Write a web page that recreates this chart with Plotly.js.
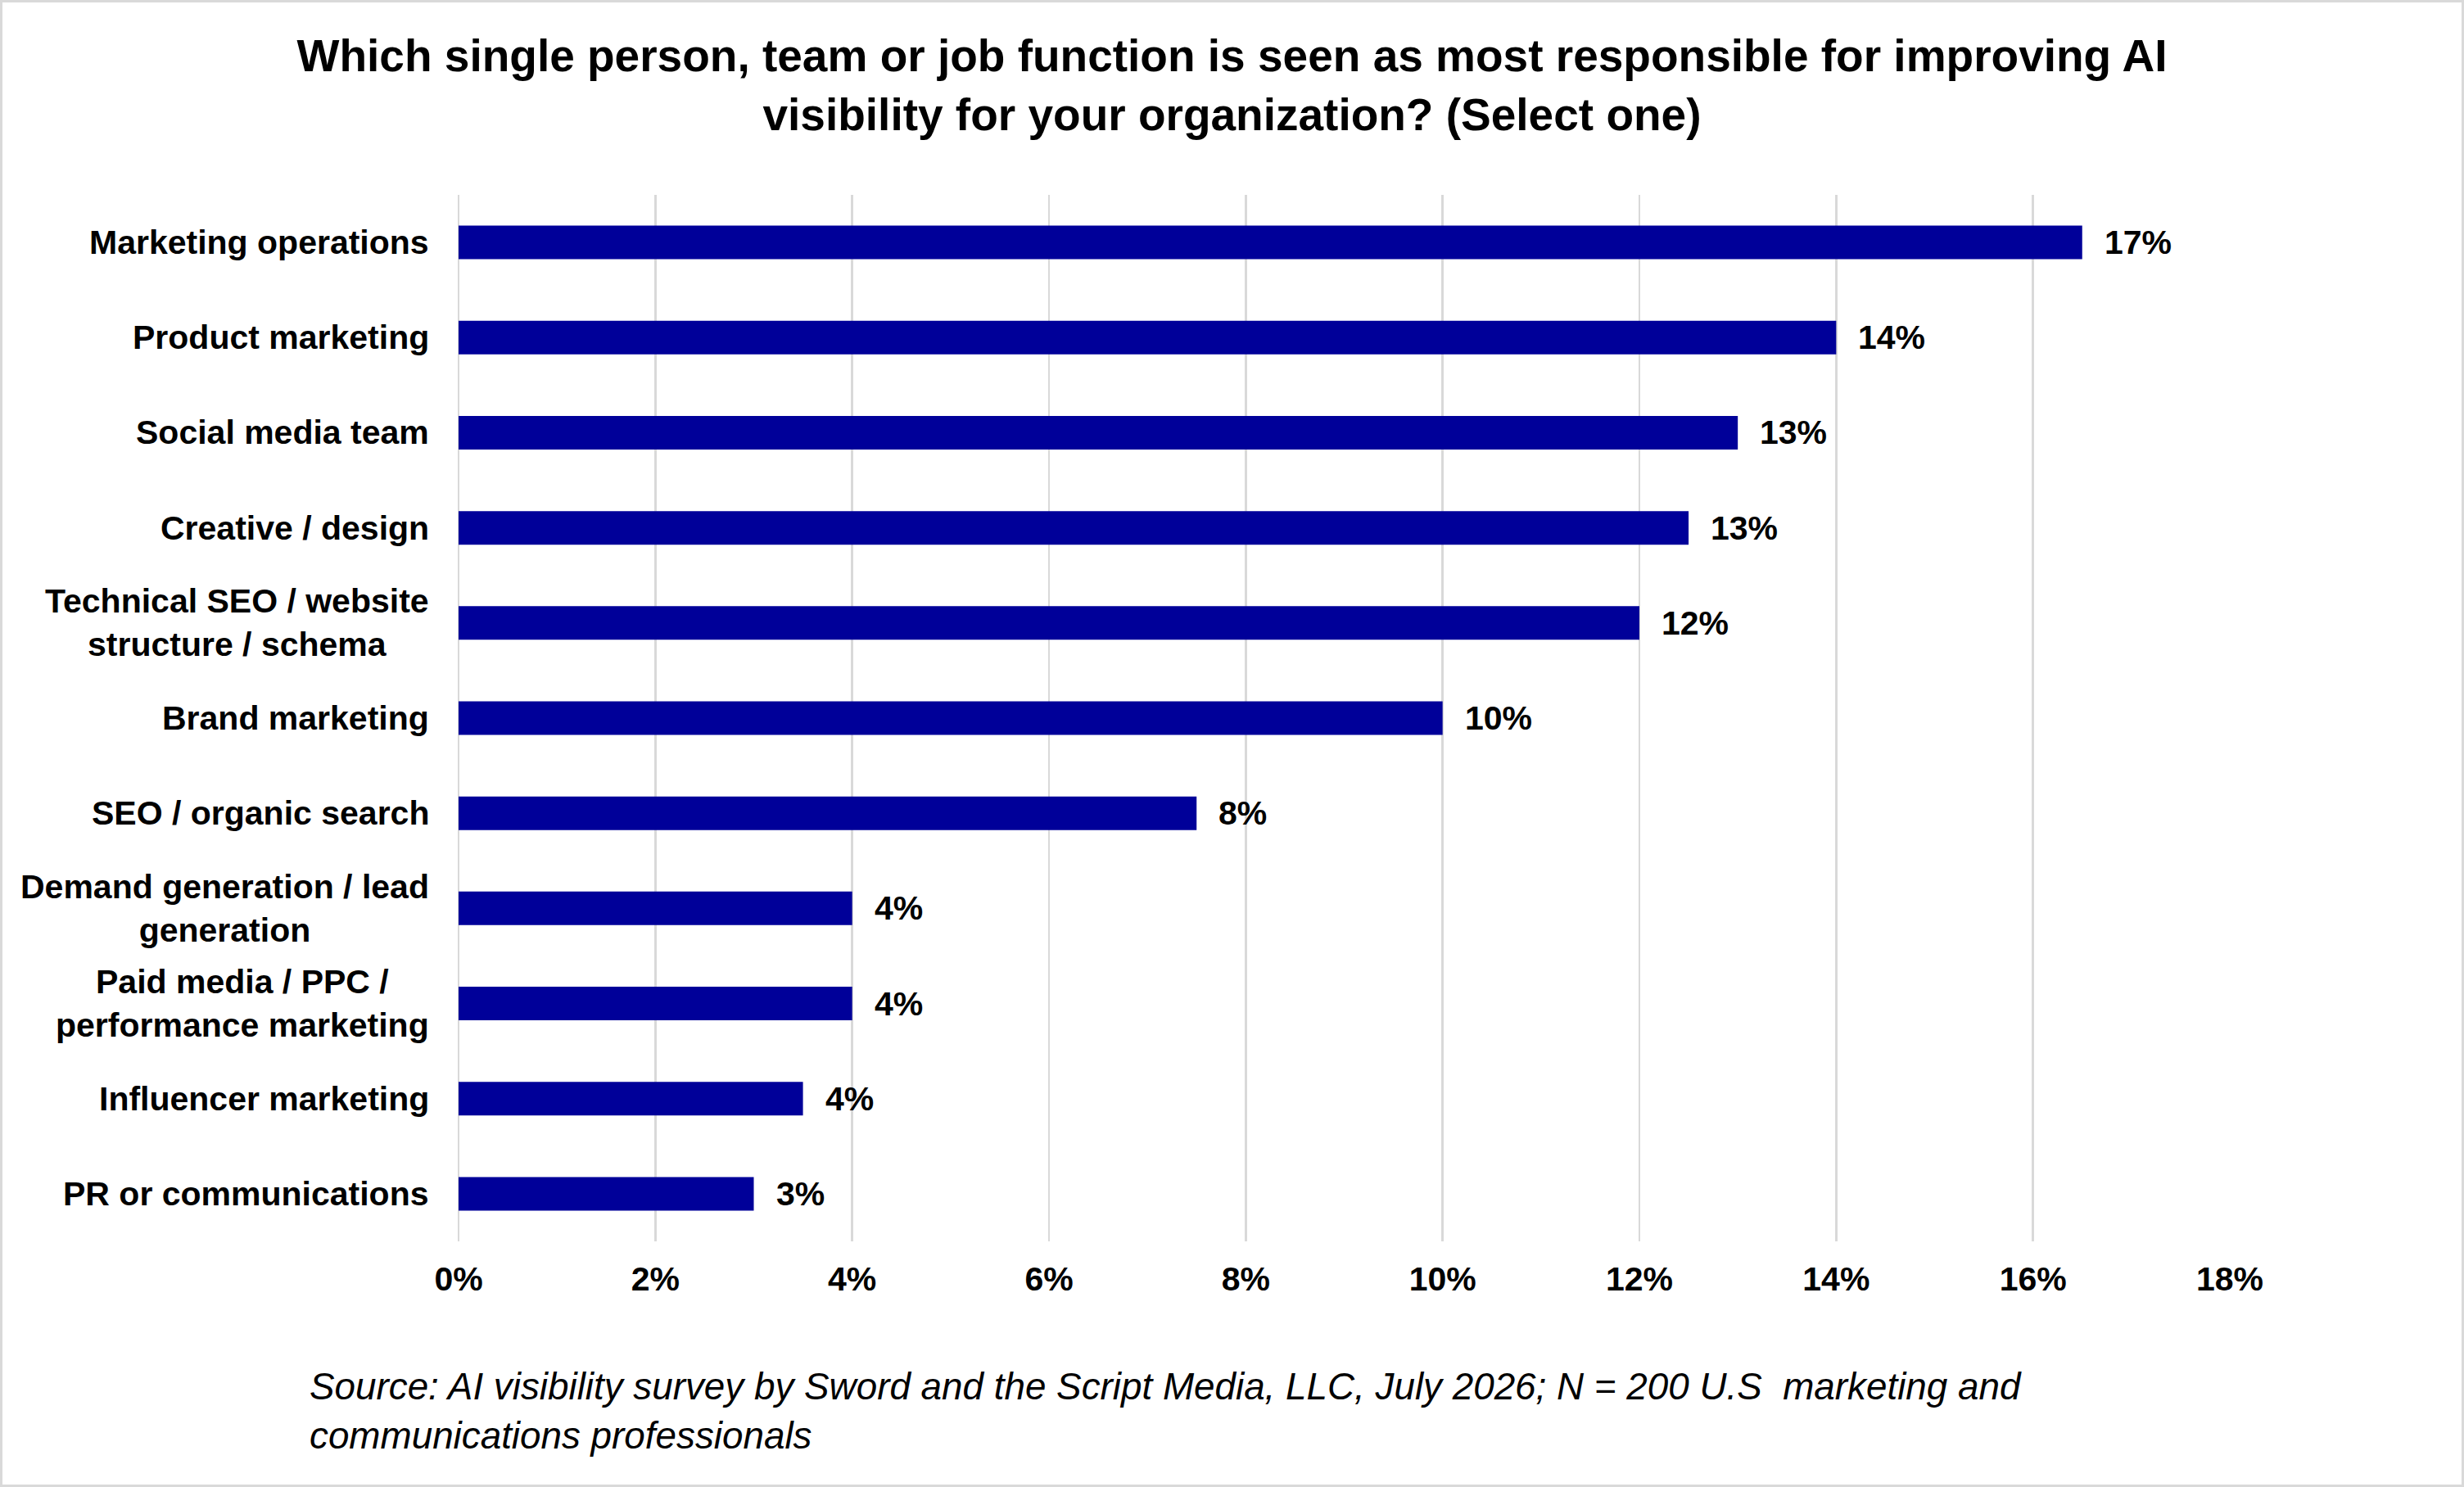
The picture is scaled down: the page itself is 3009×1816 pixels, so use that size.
<!DOCTYPE html>
<html>
<head>
<meta charset="utf-8">
<script src="https://cdn.plot.ly/plotly-3.0.1.min.js"></script>
<style>
  html, body { margin: 0; padding: 0; background: #fff; }
  #chart { width: 3009px; height: 1816px; }
</style>
</head>
<body>
<div id="chart"></div>
<script>
// survey answers, top to bottom
const categories = [
  "Marketing operations",
  "Product marketing",
  "Social media team",
  "Creative / design",
  "Technical SEO / website<br>structure / schema",
  "Brand marketing",
  "SEO / organic search",
  "Demand generation / lead<br>generation",
  "Paid media / PPC /<br>performance marketing",
  "Influencer marketing",
  "PR or communications",
];

// share of respondents, in %
const shares = [16.5, 14.0, 13.0, 12.5, 12.0, 10.0, 7.5, 4.0, 4.0, 3.5, 3.0];

// data labels as printed on the chart
const shareLabels = ["17%", "14%", "13%", "13%", "12%", "10%", "8%", "4%", "4%", "4%", "3%"];

const xTicks = [0, 2, 4, 6, 8, 10, 12, 14, 16, 18];
const xTickText = xTicks.map((v) => v + "%");

const FONT = "Liberation Sans, Arial, sans-serif";

// plot area size in px (page minus margins), used to frame the page border
const M = { l: 560, r: 286, t: 238, b: 300 };
const PW = 3009 - M.l - M.r;
const PH = 1816 - M.t - M.b;

const trace = {
  type: "bar",
  orientation: "h",
  x: shares,
  y: categories,
  marker: { color: "#000099" },
  hoverinfo: "skip",
};

// category names, centred per line like the original
const catNotes = categories.map((c) => ({
  xref: "paper",
  yref: "y",
  x: 0,
  y: c,
  xanchor: "right",
  yanchor: "middle",
  xshift: -34,
  align: "center",
  showarrow: false,
  text: c,
  font: { family: FONT, size: 41, color: "#000", weight: "bold" },
}));

// value labels at the end of each bar
const valueNotes = shares.map((v, i) => ({
  xref: "x",
  yref: "y",
  x: v,
  y: categories[i],
  xanchor: "left",
  yanchor: "middle",
  xshift: 25,
  showarrow: false,
  text: shareLabels[i],
  font: { family: FONT, size: 41, color: "#000", weight: "bold" },
}));

const sourceNote = {
  xref: "paper",
  yref: "paper",
  x: -0.0851,
  y: -0.117,
  xanchor: "left",
  yanchor: "top",
  align: "left",
  showarrow: false,
  text:
    "Source: AI visibility survey by Sword and the Script Media, LLC, July 2026; N = 200 U.S  marketing and<br>communications professionals",
  font: { family: FONT, size: 45.8, color: "#000", style: "italic" },
};

// thin grey frame round the whole page
const frame = {
  type: "rect",
  xref: "paper",
  yref: "paper",
  x0: (-M.l + 1.5) / PW,
  x1: (PW + M.r - 1.5) / PW,
  y0: (-M.b + 1.5) / PH,
  y1: (PH + M.t - 1.5) / PH,
  line: { color: "#d9d9d9", width: 3 },
  fillcolor: "rgba(0,0,0,0)",
};

const layout = {
  width: 3009,
  height: 1816,
  paper_bgcolor: "#fff",
  plot_bgcolor: "#fff",
  margin: M,
  showlegend: false,
  bargap: 0.647,
  title: {
    text:
      "Which single person, team or job function is seen as most responsible for improving AI<br>visibility for your organization? (Select one)",
    font: { family: FONT, size: 55, color: "#000", weight: "bold" },
    x: 0.5,
    xref: "container",
    y: 0.952,
    yref: "container",
    yanchor: "top",
  },
  xaxis: {
    range: [0, 18],
    tickvals: xTicks,
    ticktext: xTickText,
    showgrid: true,
    gridcolor: "#d9d9d9",
    gridwidth: 2.5,
    zeroline: true,
    zerolinecolor: "#d9d9d9",
    zerolinewidth: 2.5,
    showline: false,
    ticks: "",
    ticklabelstandoff: 18,
    tickfont: { family: FONT, size: 41, color: "#000", weight: "bold" },
    fixedrange: true,
  },
  yaxis: {
    autorange: "reversed",
    showticklabels: false,
    showgrid: false,
    zeroline: false,
    showline: false,
    ticks: "",
    fixedrange: true,
  },
  shapes: [frame],
  annotations: [...catNotes, ...valueNotes, sourceNote],
};

Plotly.newPlot("chart", [trace], layout, { displayModeBar: false, staticPlot: true });
</script>
</body>
</html>
